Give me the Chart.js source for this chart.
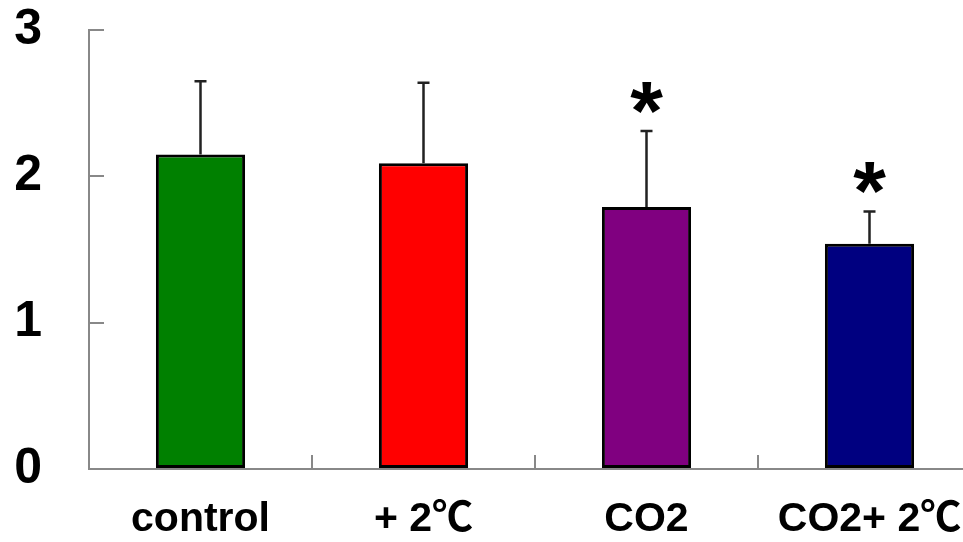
<!DOCTYPE html>
<html>
<head>
<meta charset="utf-8">
<script src="https://cdn.jsdelivr.net/npm/chart.js@4"></script>
<style>
  html, body { margin: 0; padding: 0; background: #fff; overflow: hidden; }
  #wrap { width: 1000px; height: 542px; }
</style>
</head>
<body>
<div id="wrap"><canvas id="chart" width="1000" height="542"></canvas></div>
<script>
const categories = ['control', '+ 2\u2103', 'CO2', 'CO2+ 2\u2103'];
const means = [2.15, 2.09, 1.79, 1.54];
const sds = [0.50, 0.55, 0.52, 0.22];
const significant = [false, false, true, true];
const barColors = ['#008000', '#ff0000', '#800080', '#000080'];
const yTicks = [0, 1, 2, 3];

const fontFamily = '"Liberation Sans", Arial, "Noto Sans CJK SC", "DejaVu Sans", sans-serif';

// error bars (upper only) and significance stars
const errorBarPlugin = {
    id: 'errorBars',
    afterDatasetsDraw(chart) {
        const ctx = chart.ctx;
        const y = chart.scales.y;
        const meta = chart.getDatasetMeta(0);
        ctx.save();
        meta.data.forEach((bar, i) => {
            const yMean = y.getPixelForValue(means[i]);
            const yTop = y.getPixelForValue(means[i] + sds[i]);
            ctx.strokeStyle = '#222';
            ctx.lineWidth = 2.5;
            ctx.beginPath();
            ctx.moveTo(bar.x, yMean);
            ctx.lineTo(bar.x, yTop);
            ctx.moveTo(bar.x - 6, yTop);
            ctx.lineTo(bar.x + 6, yTop);
            ctx.stroke();

            if (significant[i]) {
                ctx.font = 'bold 84px ' + fontFamily;
                ctx.fillStyle = '#000';
                ctx.textAlign = 'center';
                ctx.textBaseline = 'alphabetic';
                const m = ctx.measureText('*');
                const inkBottom = yTop - 17;
                ctx.fillText('*', bar.x, inkBottom - m.actualBoundingBoxDescent);
            }
        });
        ctx.restore();
    }
};

new Chart(document.getElementById('chart'), {
    type: 'bar',
    data: {
        labels: categories,
        datasets: [{
            data: means,
            backgroundColor: barColors,
            borderColor: '#000',
            borderWidth: 3,
            borderSkipped: false,
            categoryPercentage: 1,
            barPercentage: 0.4
        }]
    },
    options: {
        responsive: false,
        animation: false,
        layout: { padding: { top: 30, right: 19, left: 0, bottom: 0 } },
        plugins: {
            legend: { display: false },
            tooltip: { enabled: false }
        },
        scales: {
            x: {
                border: { color: '#888', width: 2 },
                grid: {
                    drawOnChartArea: false,
                    color: '#888',
                    lineWidth: 2,
                    tickLength: -14
                },
                ticks: {
                    color: '#000',
                    padding: 40,
                    maxRotation: 0,
                    autoSkip: false,
                    font: { family: fontFamily, size: 41, weight: 'bold' }
                },
                afterFit(scale) {
                    scale.height = 73;
                    scale.paddingLeft = 0;
                    scale.paddingRight = 0;
                }
            },
            y: {
                min: 0,
                max: 3,
                border: { color: '#888', width: 2 },
                grid: {
                    drawOnChartArea: false,
                    color: '#888',
                    lineWidth: 2,
                    tickLength: -15
                },
                afterBuildTicks(scale) {
                    scale.ticks = yTicks.map(v => ({ value: v }));
                },
                ticks: {
                    color: '#000',
                    padding: 62,
                    font: { family: fontFamily, size: 50, weight: 'bold' }
                },
                afterFit(scale) {
                    scale.width = 89;
                    scale.paddingTop = 0;
                    scale.paddingBottom = 0;
                }
            }
        }
    },
    plugins: [errorBarPlugin]
});
</script>
</body>
</html>
